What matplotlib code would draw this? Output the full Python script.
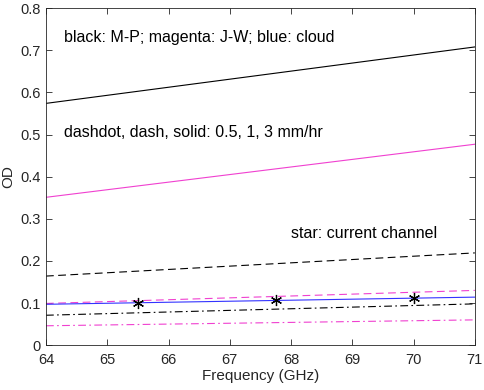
import matplotlib
matplotlib.use("Agg")
import matplotlib.pyplot as plt
import numpy as np

plt.rcParams['font.family'] = ['Liberation Sans', 'DejaVu Sans']

freq = [64, 71]
mp_3mm = [0.574, 0.708]
mp_1mm = [0.164, 0.219]
mp_05mm = [0.071, 0.098]
jw_3mm = [0.351, 0.477]
jw_1mm = [0.099, 0.130]
jw_05mm = [0.046, 0.060]
cloud = [0.097, 0.114]
chan_freq = [65.5, 67.75, 70.0]
chan_od = [0.100, 0.108, 0.113]

fig = plt.figure(figsize=(4.84, 3.9), dpi=100)
ax = fig.add_axes([0.095, 0.115, 0.886, 0.864])

mag = '#f040d0'
ax.plot(freq, mp_3mm, color='black', lw=0.8, ls='-')
ax.plot(freq, mp_1mm, color='black', lw=0.8, ls=(0, (7, 4)))
ax.plot(freq, mp_05mm, color='black', lw=0.8, ls=(0, (7, 3, 1.5, 3)))
ax.plot(freq, jw_3mm, color=mag, lw=0.8, ls='-')
ax.plot(freq, jw_1mm, color=mag, lw=0.8, ls=(0, (7, 4)))
ax.plot(freq, jw_05mm, color=mag, lw=0.8, ls=(0, (7, 3, 1.5, 3)))
ax.plot(freq, cloud, color='#3333ff', lw=0.8, ls='-')
ax.plot(chan_freq, chan_od, ls='none', marker=(6, 2, 0), color='black', ms=8, mew=0.9)

ax.text(64.29, 0.731, 'black: M-P; magenta: J-W; blue: cloud', fontsize=11.5, va='center')
ax.text(64.29, 0.506, 'dashdot, dash, solid: 0.5, 1, 3 mm/hr', fontsize=11.5, va='center')
ax.text(68.0, 0.266, 'star: current channel', fontsize=11.5, va='center')

ax.set_xlim(64, 71)
ax.set_ylim(0, 0.8)
ax.set_xticks(np.arange(64, 72, 1))
ax.set_yticks(np.arange(0, 0.81, 0.1))
ax.set_yticklabels(['0', '0.1', '0.2', '0.3', '0.4', '0.5', '0.6', '0.7', '0.8'])
ax.tick_params(direction='in', top=True, right=True, labelsize=10.5, colors='#262626',
               length=4, width=0.6)
ax.tick_params(axis='x', pad=6)
for s in ax.spines.values():
    s.set_color('#262626')
    s.set_linewidth(0.6)
ax.set_xlabel('Frequency (GHz)', fontsize=11, color='#262626', labelpad=1)
ax.set_ylabel('OD', fontsize=11, color='#262626', labelpad=4)

fig.savefig('out.png', dpi=100)
